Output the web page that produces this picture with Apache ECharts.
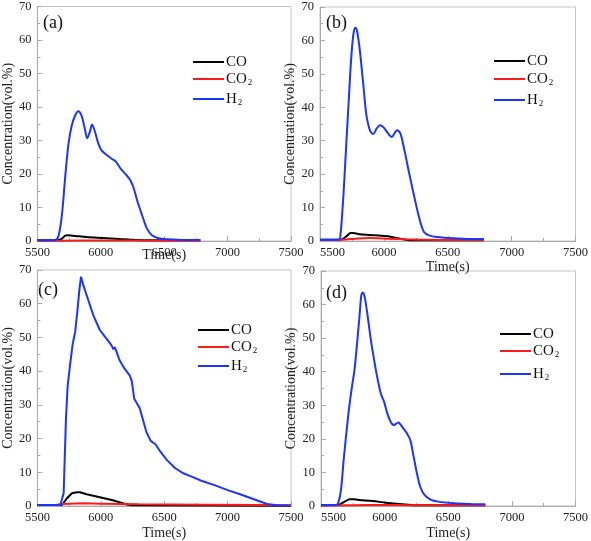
<!DOCTYPE html>
<html><head><meta charset="utf-8">
<script src="https://cdn.jsdelivr.net/npm/echarts@6/dist/echarts.min.js"></script>
<style>html,body{margin:0;padding:0;background:#fff}#c{width:591px;height:541px}</style>
</head><body><div id="c"></div>
<script>
// ---- data ----
const seriesNames = ['CO', 'CO2', 'H2'];
const panelLabels = ['(a)', '(b)', '(c)', '(d)'];
const xTitle = 'Time(s)';
const yTitle = 'Concentration(vol.%)';

const a_CO = [[5500,0.2],[5650,0.2],[5690,0.6],[5719,1.6],[5740,1.7],[5800,1.5],[5887,1.2],[6016,0.9],[6145,0.6],[6274,0.3],[6400,0.2],[6785,0.2]];
const a_CO2 = [[5500,0.1],[5700,0.1],[6000,0.15],[6500,0.1],[6785,0.1]];
const a_H2 = [[5500,0.2],[5600,0.2],[5642,0.3],[5668,1.7],[5694,8],[5719,19],[5745,29],[5771,34.5],[5797,37.4],[5822,38.7],[5848,37.4],[5874,33.5],[5892,30.7],[5913,32.5],[5931,34.8],[5951,33],[5977,29.5],[6003,27.2],[6042,25.8],[6080,24.7],[6119,23.7],[6158,21.5],[6197,19.9],[6235,18],[6261,15.6],[6287,12.1],[6313,9.1],[6339,6.2],[6364,3.7],[6403,1.7],[6455,0.8],[6532,0.5],[6661,0.3],[6785,0.3]];

const b_CO = [[5500,0.4],[5660,0.4],[5713,1.6],[5738,2.4],[5760,2.4],[5815,2.0],[5930,1.7],[6033,1.4],[6110,0.8],[6186,0.3],[6300,0.2],[6783,0.2]];
const b_CO2 = [[5500,0.3],[5660,0.3],[5720,0.5],[5777,0.7],[5879,0.9],[6033,0.7],[6161,0.5],[6290,0.4],[6500,0.3],[6783,0.3]];
const b_H2 = [[5500,0.4],[5649,0.4],[5661,2.2],[5674,8.2],[5687,16],[5700,25],[5713,34],[5725,42],[5738,51],[5751,58],[5764,62.5],[5777,63.8],[5789,63],[5802,60],[5815,56],[5828,51],[5841,46],[5853,41],[5866,37],[5892,33],[5917,32],[5943,33.6],[5969,34.6],[5994,34.1],[6020,32.9],[6045,31.6],[6063,31.1],[6084,32.3],[6104,33.1],[6130,32.1],[6161,27.1],[6199,20.1],[6238,13.2],[6268,8.2],[6289,5.2],[6314,2.7],[6353,1.7],[6417,1.2],[6545,0.8],[6673,0.6],[6783,0.6]];

const c_CO = [[5500,0.3],[5694,0.3],[5733,2.3],[5772,3.8],[5810,4.1],[5835,4.1],[5888,3.5],[5992,2.6],[6095,1.7],[6198,0.5],[6240,0.2],[7500,0.1]];
const c_CO2 = [[5500,0.3],[5650,0.4],[5700,0.6],[5862,0.8],[6000,0.7],[6300,0.5],[6800,0.4],[7300,0.3],[7500,0.2]];
const c_H2 = [[5500,0.3],[5655,0.3],[5681,0.3],[5694,0.8],[5707,3.8],[5715,13.6],[5725,25.5],[5738,35.4],[5759,42.3],[5779,48.2],[5798,51.7],[5816,58.1],[5831,64.1],[5844,68],[5862,65.5],[5901,61.1],[5940,56.7],[5992,52.2],[6043,49.7],[6082,47.8],[6100,46.5],[6110,47.1],[6121,46.1],[6147,43.3],[6186,40.8],[6230,38.6],[6245,36.9],[6263,31.9],[6281,30.7],[6307,29],[6333,25.5],[6359,22],[6393,19.3],[6431,18.3],[6470,16.1],[6522,13.6],[6587,11.2],[6651,9.7],[6716,8.7],[6793,7.5],[6897,6.2],[7000,4.7],[7104,3.4],[7207,2.0],[7311,0.6],[7389,0.2],[7492,0.1]];

const d_CO = [[5500,0.3],[5630,0.3],[5686,1.3],[5725,2.0],[5760,2.0],[5802,1.8],[5905,1.5],[6008,1.0],[6138,0.5],[6240,0.2],[6791,0.2]];
const d_CO2 = [[5500,0.1],[5700,0.2],[5850,0.3],[6100,0.3],[6300,0.2],[6791,0.2]];
const d_H2 = [[5500,0.3],[5621,0.3],[5642,1.8],[5660,5.8],[5678,13.7],[5699,21.6],[5719,28.6],[5743,35.5],[5763,40.5],[5781,47.4],[5802,56.3],[5817,62.8],[5828,63.6],[5843,62.3],[5866,56.8],[5892,49.4],[5918,43.4],[5944,38],[5970,33.5],[5996,31],[6021,27.6],[6047,25.1],[6073,24.1],[6107,24.9],[6138,23.6],[6176,21.6],[6202,19.6],[6228,14.7],[6254,9.7],[6279,5.8],[6313,3.3],[6357,2.0],[6421,1.3],[6550,0.8],[6680,0.6],[6791,0.5]];

const panelData = [[a_CO, a_CO2, a_H2],[b_CO, b_CO2, b_H2],[c_CO, c_CO2, c_H2],[d_CO, d_CO2, d_H2]];

// ---- layout / style ----
const FONT = '"Liberation Serif","Times New Roman",serif';
const colors = ['#000000', '#ff1a1a', '#1a35ff'];
const grids = [
  {left: 33, top: 6, width: 258, height: 235},
  {left: 320, top: 7, width: 260, height: 234},
  {left: 33, top: 270, width: 258, height: 236},
  {left: 321, top: 271, width: 258, height: 235}
];
const xNameGap = [7, 19, 20, 20];
const smoothFlag = [0.3, 0.3, false, 0.3];
const labelPos = [[43, 14], [326, 14], [38, 281], [326, 284]];
const legendPos = [
  [188, [58, 75, 95]],
  [489, [57, 75, 96]],
  [193, [326, 343, 362]],
  [495, [330, 347, 370]]
];
const axisGray = '#a9a9a9';

const option = {
  backgroundColor: '#fff',
  animation: false,
  grid: grids.map(g => Object.assign({show: true, borderColor: '#c4c4c4', borderWidth: 1}, g)),
  xAxis: grids.map((g, i) => ({
    type: 'value', gridIndex: i, min: 5500, max: 7500, interval: 500,
    name: xTitle, nameLocation: 'middle', nameGap: xNameGap[i], nameMoveOverlap: false,
    nameTextStyle: {fontFamily: FONT, fontSize: 14, color: '#222'},
    axisLine: {show: true, onZero: false, lineStyle: {color: axisGray, width: 1}},
    axisTick: {show: true, inside: true, length: 5, lineStyle: {color: axisGray}},
    minorTick: {show: true, splitNumber: 2, length: 3, lineStyle: {color: axisGray}},
    splitLine: {show: false},
    axisLabel: {fontFamily: FONT, fontSize: 12.5, color: '#222', margin: 5,
      formatter: v => String(v),
      alignMinLabel: (i === 1 || i === 3) ? 'left' : 'center'}
  })),
  yAxis: grids.map((g, i) => ({
    type: 'value', gridIndex: i, min: 0, max: 70, interval: 10,
    name: yTitle, nameLocation: 'middle', nameGap: 19, nameRotate: 90,
    nameTextStyle: {fontFamily: FONT, fontSize: 14, color: '#222'},
    axisLine: {show: true, lineStyle: {color: axisGray, width: 1}},
    axisTick: {show: true, inside: true, length: 5, lineStyle: {color: axisGray}},
    minorTick: {show: true, splitNumber: 2, length: 3, lineStyle: {color: axisGray}},
    splitLine: {show: false},
    axisLabel: {fontFamily: FONT, fontSize: 12.5, color: '#222', margin: 6, formatter: v => String(v)}
  })),
  legend: [],
  series: [],
  graphic: panelLabels.map((t, i) => ({
    type: 'text', left: labelPos[i][0], top: labelPos[i][1],
    style: {text: t, font: '18px ' + FONT, fill: '#111'}
  }))
};

panelData.forEach((arrs, i) => {
  arrs.forEach((d, k) => {
    option.series.push({
      type: 'line', name: seriesNames[k], xAxisIndex: i, yAxisIndex: i,
      data: d, showSymbol: false, symbol: 'none', smooth: smoothFlag[i],
      lineStyle: {color: colors[k], width: 2}, itemStyle: {color: colors[k]}, z: 2 + (k === 2 ? 1 : 0)
    });
  });
  legendPos[i][1].forEach((yc, k) => {
    option.legend.push({
      data: [seriesNames[k]], left: legendPos[i][0], top: yc - 8,
      icon: 'rect', itemWidth: 31, itemHeight: 2, itemGap: 0,
      selectedMode: false,
      formatter: n => n === 'CO2' ? '{n|CO}{s|2}' : n === 'H2' ? '{n|H}{s|2}' : '{n|CO}',
      textStyle: {
        fontFamily: FONT, color: '#111', padding: [0, 0, 0, -3],
        rich: {
          n: {fontFamily: FONT, fontSize: 15, color: '#111', lineHeight: 16, verticalAlign: 'bottom'},
          s: {fontFamily: FONT, fontSize: 9, color: '#111', lineHeight: 9, verticalAlign: 'bottom', padding: [0, 0, 0, 1]}
        }
      }
    });
  });
});

const chart = echarts.init(document.getElementById('c'), null, {renderer: 'canvas'});
chart.setOption(option);
</script></body></html>
